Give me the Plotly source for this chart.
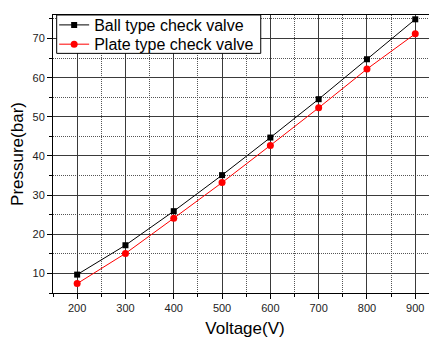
import plotly.graph_objects as go

voltage = [200, 300, 400, 500, 600, 700, 800, 900]
ball_pressure = [9.7, 17.2, 25.9, 35.1, 44.7, 54.5, 64.7, 74.9]
plate_pressure = [7.4, 15.1, 24.1, 33.2, 42.7, 52.3, 62.2, 71.2]

fig = go.Figure()
fig.add_trace(go.Scatter(x=voltage, y=ball_pressure, mode="lines+markers",
                         name="Ball type check valve", legend="legend",
                         line=dict(color="black", width=1),
                         marker=dict(symbol="square", size=6, color="black")))
fig.add_trace(go.Scatter(x=voltage, y=plate_pressure, mode="lines+markers",
                         name="Plate type check valve", legend="legend2",
                         line=dict(color="red", width=1),
                         marker=dict(symbol="circle", size=7, color="red")))

font_family = "Liberation Sans, Arial"
axis_common = dict(showline=True, linecolor="black", linewidth=1, mirror=True,
                   showgrid=True, gridcolor="#3a3a3a", gridwidth=1,
                   ticks="outside", ticklen=5, tickcolor="black", zeroline=False,
                   automargin=False,
                   tickfont=dict(family=font_family, size=11, color="#222"))

fig.update_xaxes(range=[150, 945], tick0=0, dtick=100,
                 title=dict(text="Voltage(V)", font=dict(family=font_family, size=17, color="black"), standoff=13),
                 minor=dict(dtick=50, tick0=0, showgrid=True, griddash="1px,1px", gridcolor="#555",
                            ticks="outside", ticklen=3, tickcolor="black"),
                 **axis_common)
fig.update_yaxes(range=[5, 76], tick0=0, dtick=10,
                 title=dict(text="Pressure(bar)", font=dict(family=font_family, size=17, color="black"), standoff=8),
                 minor=dict(dtick=5, tick0=0, showgrid=True, griddash="1px,1px", gridcolor="#555",
                            ticks="outside", ticklen=3, tickcolor="black"),
                 **axis_common)

legend_style = dict(xanchor="left", yanchor="middle", bgcolor="rgba(0,0,0,0)",
                    borderwidth=0, font=dict(family=font_family, size=16, color="black"),
                    itemsizing="trace")

# page body has an 8px default margin; compensate so the plot lands where the reference has it
fig.update_layout(width=429, height=330,
                  margin=dict(l=45, r=0, t=3, b=45),
                  plot_bgcolor="white", paper_bgcolor="white",
                  legend=dict(x=0.003, y=0.9645, **legend_style),
                  legend2=dict(x=0.003, y=0.8947, **legend_style),
                  shapes=[dict(type="rect", xref="paper", yref="paper",
                               x0=0.0096, x1=0.541, y0=0.862, y1=1.0,
                               line=dict(color="black", width=1),
                               fillcolor="white", layer="above")],
                  showlegend=True)

fig.write_html("out.html")
